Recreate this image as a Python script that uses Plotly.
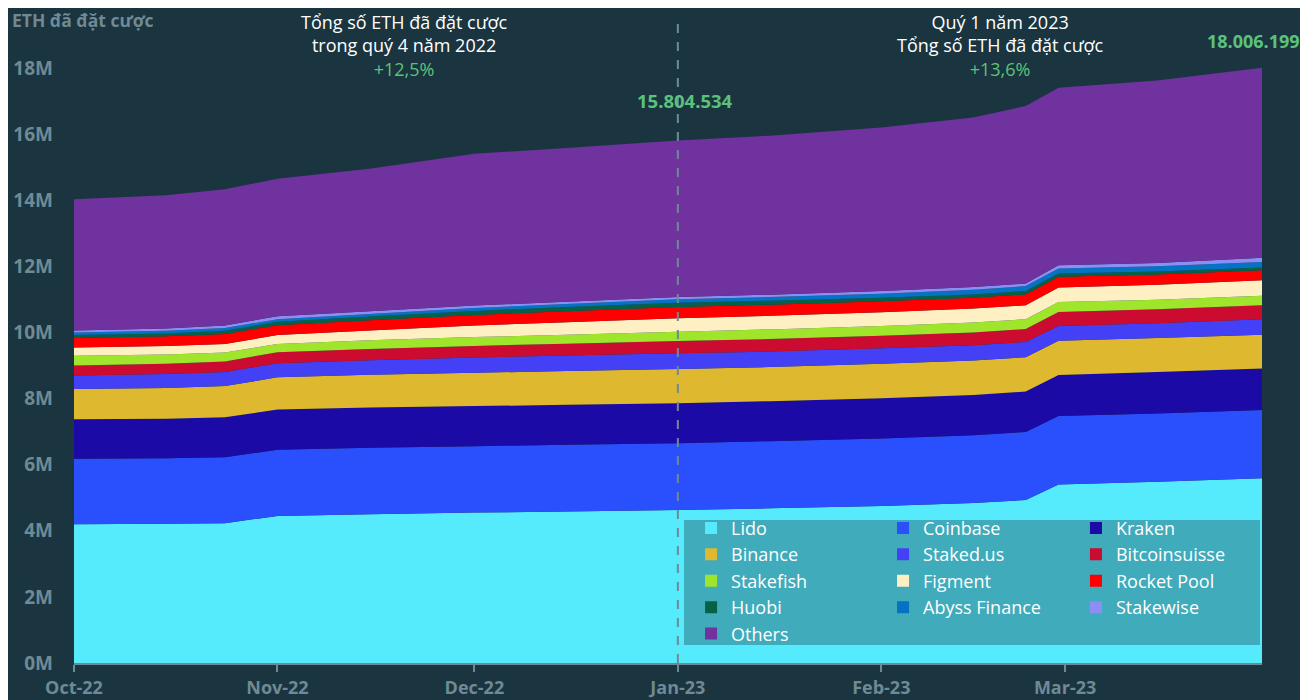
import plotly.graph_objects as go

# ---------------- data (million ETH) ----------------
dates = ["2022-10-01", "2022-10-15", "2022-10-24", "2022-11-01", "2022-11-15",
         "2022-12-01", "2022-12-15", "2023-01-01", "2023-01-15", "2023-02-01",
         "2023-02-15", "2023-02-23", "2023-02-28", "2023-03-15", "2023-03-31"]

lido = [4.20, 4.21, 4.23, 4.45, 4.50, 4.55, 4.58, 4.63, 4.68, 4.75, 4.84, 4.93, 5.40, 5.48, 5.59]
coinbase = [1.98, 1.98, 1.99, 2.00, 2.01, 2.01, 2.02, 2.02, 2.03, 2.04, 2.05, 2.06, 2.07, 2.07, 2.06]
kraken = [1.19, 1.20, 1.21, 1.22, 1.22, 1.21, 1.21, 1.21, 1.21, 1.22, 1.22, 1.22, 1.24, 1.25, 1.26]
binance = [0.92, 0.93, 0.95, 0.97, 0.99, 1.01, 1.02, 1.03, 1.03, 1.04, 1.04, 1.04, 1.04, 1.03, 1.02]
staked_us = [0.41, 0.42, 0.42, 0.43, 0.44, 0.46, 0.47, 0.48, 0.47, 0.47, 0.46, 0.46, 0.44, 0.45, 0.47]
bitcoinsuisse = [0.30, 0.31, 0.32, 0.33, 0.34, 0.35, 0.36, 0.37, 0.38, 0.38, 0.39, 0.39, 0.43, 0.42, 0.42]
stakefish = [0.29, 0.28, 0.27, 0.25, 0.26, 0.27, 0.27, 0.28, 0.29, 0.29, 0.30, 0.30, 0.30, 0.29, 0.29]
figment = [0.25, 0.26, 0.26, 0.27, 0.30, 0.35, 0.38, 0.41, 0.41, 0.42, 0.42, 0.42, 0.44, 0.45, 0.47]
rocket_pool = [0.29, 0.29, 0.30, 0.30, 0.31, 0.32, 0.33, 0.34, 0.34, 0.33, 0.33, 0.33, 0.32, 0.31, 0.30]
huobi = [0.09, 0.09, 0.10, 0.10, 0.11, 0.12, 0.13, 0.13, 0.12, 0.11, 0.10, 0.10, 0.10, 0.09, 0.08]
abyss = [0.08, 0.08, 0.08, 0.08, 0.08, 0.09, 0.09, 0.10, 0.11, 0.12, 0.14, 0.15, 0.15, 0.16, 0.17]
stakewise = [0.06, 0.07, 0.08, 0.09, 0.08, 0.07, 0.07, 0.07, 0.07, 0.08, 0.08, 0.08, 0.10, 0.10, 0.13]
others = [3.97, 4.03, 4.12, 4.16, 4.31, 4.59, 4.65, 4.735, 4.81, 4.95, 5.13, 5.37, 5.37, 5.52, 5.746]

series_names = ["Lido", "Coinbase", "Kraken", "Binance", "Staked.us", "Bitcoinsuisse",
                "Stakefish", "Figment", "Rocket Pool", "Huobi", "Abyss Finance",
                "Stakewise", "Others"]
series_values = [lido, coinbase, kraken, binance, staked_us, bitcoinsuisse,
                 stakefish, figment, rocket_pool, huobi, abyss, stakewise, others]
colors = ["#55EBFC", "#2A50FD", "#1B0AA5", "#DEB82E", "#4440F5", "#CC0B30",
          "#9EE52C", "#FEF0C2", "#FE0000", "#056246", "#0672C4", "#8B8EF4", "#6F329F"]

month_ticks = ["2022-10-01", "2022-11-01", "2022-12-01", "2023-01-01", "2023-02-01", "2023-03-01"]
month_labels = ["Oct-22", "Nov-22", "Dec-22", "Jan-23", "Feb-23", "Mar-23"]
y_ticks = [0, 2, 4, 6, 8, 10, 12, 14, 16, 18]
y_labels = ["0M", "2M", "4M", "6M", "8M", "10M", "12M", "14M", "16M", "18M"]

# legend columns (as in the reference)
legend_columns = {
    "legend": ["Lido", "Binance", "Stakefish", "Huobi", "Others"],
    "legend2": ["Coinbase", "Staked.us", "Figment", "Abyss Finance"],
    "legend3": ["Kraken", "Bitcoinsuisse", "Rocket Pool", "Stakewise"],
}

BG = "#1A3540"
GRAY = "#6F8A94"
GREEN = "#5CC27B"
FONT = "Open Sans"

fig = go.Figure()

for name, vals, col in zip(series_names, series_values, colors):
    fig.add_trace(go.Scatter(
        x=dates, y=vals, name=name, mode="none", stackgroup="one",
        fillcolor=col, line=dict(width=0), showlegend=False, hoverinfo="x+y+name"))

# legend entries with square symbols
for leg, names in legend_columns.items():
    for n in names:
        c = colors[series_names.index(n)]
        fig.add_trace(go.Scatter(
            x=[None], y=[None], mode="markers", name=n, legend=leg,
            marker=dict(symbol="square", size=12, color=c), showlegend=True))

# legend background
fig.add_shape(type="rect", xref="paper", yref="paper",
              x0=0.5135, x1=0.9983, y0=0.0298, y1=0.2364,
              fillcolor="#40ABBB", line=dict(width=0), layer="above")

# dashed line at Jan-23
fig.add_shape(type="line", xref="x", yref="paper",
              x0="2023-01-01", x1="2023-01-01", y0=0, y1=1.0595,
              line=dict(color=GRAY, width=2, dash="dash"), layer="above")

leg_common = dict(orientation="v", bgcolor="rgba(0,0,0,0)", borderwidth=0,
                  font=dict(family=FONT, size=18, color="#FFFFFF"),
                  xanchor="left", yanchor="top", traceorder="normal", y=0.2533)

# the page places the figure 8px from the top-left corner
fig.update_layout(
    width=1300, height=692,
    paper_bgcolor=BG, plot_bgcolor=BG,
    margin=dict(l=66, r=46, t=50, b=37, autoexpand=False),
    font=dict(family=FONT, color=GRAY),
    legend=dict(x=0.5194, **leg_common),
    legend2=dict(x=0.681, **leg_common),
    legend3=dict(x=0.8434, **leg_common),
    xaxis=dict(
        type="date", range=["2022-10-01", "2023-03-31"],
        tickvals=month_ticks, ticktext=month_labels,
        ticks="outside", ticklen=7, tickwidth=1.5, tickcolor=GRAY,
        showline=True, linecolor=GRAY, linewidth=2, automargin=False,
        showgrid=False, zeroline=False, ticklabelstandoff=0,
        tickfont=dict(family=FONT, size=18, color=GRAY, weight="bold")),
    yaxis=dict(
        range=[0, 18.3], tickvals=y_ticks, ticktext=y_labels, automargin=False,
        showgrid=False, zeroline=False, showline=False, ticks="",
        ticklabelstandoff=20,
        tickfont=dict(family=FONT, size=19, color=GRAY, weight="bold")),
)

ann = []
ann.append(dict(text="ETH đã đặt cược", xref="paper", yref="paper",
                x=-0.0539, y=1.0628, xanchor="left", yanchor="middle", showarrow=False,
                font=dict(family=FONT, size=17.5, color=GRAY, weight="bold")))
ann.append(dict(text="Tổng số ETH đã đặt cược<br>trong quý 4 năm 2022<br>"
                     f"<span style='color:{GREEN}'>+12,5%</span>",
                xref="paper", yref="paper", x=0.2786, y=1.0214,
                xanchor="center", yanchor="middle", showarrow=False,
                font=dict(family=FONT, size=18, color="#FFFFFF")))
ann.append(dict(text="Quý 1 năm 2023<br>Tổng số ETH đã đặt cược<br>"
                     f"<span style='color:{GREEN}'>+13,6%</span>",
                xref="paper", yref="paper", x=0.7795, y=1.0214,
                xanchor="center", yanchor="middle", showarrow=False,
                font=dict(family=FONT, size=18, color="#FFFFFF")))
ann.append(dict(text="15.804.534", xref="x", yref="paper",
                x="2023-01-01", xshift=7, y=0.929, xanchor="center", yanchor="middle",
                showarrow=False, font=dict(family=FONT, size=18.5, color=GREEN, weight="bold")))
ann.append(dict(text="18.006.199", xref="paper", yref="paper",
                x=1.0, y=1.028, xanchor="right", yanchor="middle", xshift=40,
                showarrow=False, font=dict(family=FONT, size=18, color=GREEN, weight="bold")))
fig.update_layout(annotations=ann)

fig.write_html("out.html")
